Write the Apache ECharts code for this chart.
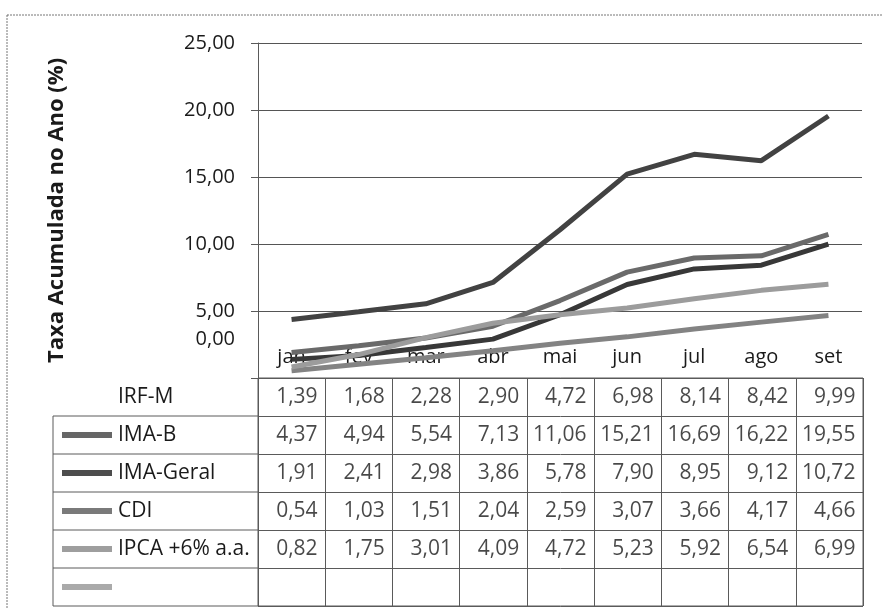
<!DOCTYPE html>
<html>
<head>
<meta charset="utf-8">
<script src="https://cdn.jsdelivr.net/npm/echarts@6/dist/echarts.min.js"></script>
<style>html,body{margin:0;padding:0;background:#fff}#c{width:883px;height:608px}</style>
</head>
<body>
<div id="c"></div>
<script>
const months = ['jan','fev','mar','abr','mai','jun','jul','ago','set'];
const irfm = [1.39,1.68,2.28,2.90,4.72,6.98,8.14,8.42,9.99];
const imab = [4.37,4.94,5.54,7.13,11.06,15.21,16.69,16.22,19.55];
const imaGeral = [1.91,2.41,2.98,3.86,5.78,7.90,8.95,9.12,10.72];
const cdi = [0.54,1.03,1.51,2.04,2.59,3.07,3.66,4.17,4.66];
const ipca = [0.82,1.75,3.01,4.09,4.72,5.23,5.92,6.54,6.99];
const seriesNames = ['IRF-M','IMA-B','IMA-Geral','CDI','IPCA +6% a.a.'];
const tableRows = ['IRF-M','IMA-B','IMA-Geral','CDI','IPCA +6% a.a.',''];
const yTitle = 'Taxa Acumulada no Ano (%)';
const yMin = 0, yMax = 25, yStep = 5;

const allSeries = [irfm, imab, imaGeral, cdi, ipca];
const lineColors = ['#383838','#424242','#6a6a6a','#838383','#9c9c9c'];
const keyColors = ['#666666','#4d4d4d','#7a7a7a','#9e9e9e','#aaaaaa'];
const fmt = v => v.toFixed(2).replace('.', ',');
const FONT = '"Open Sans", sans-serif';
const lineCol = '#5a5a5a';
const TXT = '#1a1a1a';

const chart = echarts.init(document.getElementById('c'));

const rich = {
  t: {fontFamily: FONT, fontSize: 21, color: TXT, padding: [0,0,0,6]},
  s: {width: 50, height: 6}
};
keyColors.forEach((c, i) => { rich['k' + i] = {width: 50, height: 6, backgroundColor: c}; });

const series = allSeries.map((d, i) => ({
  name: seriesNames[i], type: 'line', xAxisIndex: 0, yAxisIndex: 0,
  data: d, symbol: 'none', lineStyle: {width: 5, color: lineColors[i]}, z: 3
}));
allSeries.forEach((d, r) => {
  series.push({
    type: 'scatter', xAxisIndex: 1, yAxisIndex: 1, symbolSize: 0, silent: true,
    data: d.map((v, i) => ({value: [i, r], v: v})),
    label: {show: true, position: 'inside', align: 'right', offset: [26, 0],
      fontFamily: FONT, fontSize: 21, color: TXT,
      formatter: p => fmt(p.data.v)}
  });
});

chart.setOption({
  animation: false,
  backgroundColor: '#fff',
  grid: [
    {left: 258, right: 21, top: 43, bottom: 230},
    {left: 258, right: 20, top: 378, bottom: 2, show: true, borderColor: lineCol, borderWidth: 1}
  ],
  xAxis: [
    {type: 'category', gridIndex: 0, data: months, boundaryGap: true,
      axisLine: {show: false}, axisTick: {show: false},
      axisLabel: {inside: true, margin: 11, fontFamily: FONT, fontSize: 20, color: TXT},
      z: 1},
    {type: 'category', gridIndex: 1, data: months, boundaryGap: true,
      axisLine: {show: false}, axisTick: {show: false}, axisLabel: {show: false},
      splitLine: {show: true, interval: 0, lineStyle: {color: lineCol, width: 1}}}
  ],
  yAxis: [
    {type: 'value', gridIndex: 0, min: yMin, max: yMax, interval: yStep,
      name: yTitle, nameLocation: 'middle', nameGap: 190, nameRotate: 90,
      nameTextStyle: {fontFamily: FONT, fontSize: 22, fontWeight: 'bold', color: TXT},
      axisLine: {show: true, lineStyle: {color: lineCol}},
      axisTick: {show: true, length: 7, lineStyle: {color: lineCol}},
      splitLine: {show: true, lineStyle: {color: '#555', width: 1}},
      axisLabel: {margin: 23, fontFamily: FONT, fontSize: 20, color: TXT,
        formatter: v => v === 0 ? '{z|' + fmt(v) + '}' : fmt(v),
        rich: {z: {fontFamily: FONT, fontSize: 20, color: TXT, padding: [0,0,78,0]}}}},
    {type: 'category', gridIndex: 1, data: tableRows, inverse: true, boundaryGap: true,
      axisLine: {show: false}, axisTick: {show: false},
      splitLine: {show: true, interval: 0, lineStyle: {color: lineCol, width: 1}},
      axisLabel: {align: 'left', margin: 196, interval: 0, rich: rich,
        formatter: (v, i) => (i === 0 ? '{s|}' : '{k' + (i - 1) + '|}') + (v ? '{t|' + v + '}' : '')}}
  ],
  series: series
});

// label-column borders of the data table, from the table axis
const y0 = chart.convertToPixel({yAxisIndex: 1}, 0);
const y1 = chart.convertToPixel({yAxisIndex: 1}, 1);
const band = y1 - y0;
const colW = chart.convertToPixel({xAxisIndex: 1}, 1) - chart.convertToPixel({xAxisIndex: 1}, 0);
const xTab = chart.convertToPixel({xAxisIndex: 1}, 0) - colW / 2;
const xLeft = 53;
const g = [];
for (let r = 1; r <= tableRows.length; r++) {
  const yb = chart.convertToPixel({yAxisIndex: 1}, r - 1) + band / 2;
  g.push({type: 'line', shape: {x1: xLeft, y1: yb, x2: xTab, y2: yb}, style: {stroke: lineCol, lineWidth: 1}});
}
const yTop = y1 - band / 2;
const yBot = chart.convertToPixel({yAxisIndex: 1}, tableRows.length - 1) + band / 2;
g.push({type: 'line', shape: {x1: xLeft, y1: yTop, x2: xLeft, y2: yBot}, style: {stroke: lineCol, lineWidth: 1}});
g.push({type: 'rect', shape: {x: 7, y: 15, width: 900, height: 700}, style: {fill: null, stroke: '#777', lineWidth: 1, lineDash: [2, 1]}});
chart.setOption({graphic: g});
</script>
</body>
</html>
